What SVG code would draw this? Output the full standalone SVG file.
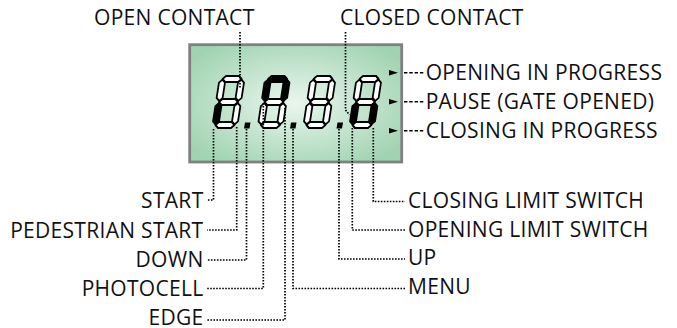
<svg xmlns="http://www.w3.org/2000/svg" width="677" height="328" viewBox="0 0 677 328">
<defs>
<radialGradient id="lcd" cx="0.5" cy="0.5" r="0.62">
<stop offset="0" stop-color="#eaf6ee"/>
<stop offset="1" stop-color="#a0d3b1"/>
</radialGradient>
</defs>
<style>
.lbl{font-family:"Open Sans","Noto Sans","DejaVu Sans",sans-serif;font-size:21px;letter-spacing:0.3px;fill:#111}
.r{text-anchor:end}
.dot{fill:none;stroke:#000;stroke-width:1.7;stroke-dasharray:1.6 1.4}
.dash{fill:none;stroke:#000;stroke-width:1.5;stroke-dasharray:3.4 1.9}
.seg{fill:#fff;stroke:#000;stroke-width:1.8;stroke-linejoin:round}
.on{fill:#000}
</style>
<g id="display">
<rect x="189.7" y="44.7" width="212" height="117.3" fill="url(#lcd)" stroke="#808080" stroke-width="2.8"/>
</g>
<g id="digit1" transform="translate(220,76) skewX(-8.75)">
<polygon class="seg" points="3,3 6,0 19,0 22,3 19,6 6,6"/>
<polygon class="seg" points="3,26 6,23 19,23 22,26 19,29 6,29"/>
<polygon class="seg" points="3,49 6,46 19,46 22,49 19,52 6,52"/>
<polygon class="seg" points="3,3.6 6,6.6 6,21.8 3,24.8 0,21.8 0,6.6"/>
<polygon class="seg" points="22,3.6 25,6.6 25,21.8 22,24.8 19,21.8 19,6.6"/>
<polygon class="seg on" points="3,27.2 6,30.2 6,45.4 3,48.4 0,45.4 0,30.2"/>
<polygon class="seg" points="22,27.2 25,30.2 25,45.4 22,48.4 19,45.4 19,30.2"/>
</g>
<g id="digit2" transform="translate(265.5,76) skewX(-8.75)">
<polygon class="seg on" points="3,3 6,0 19,0 22,3 19,6 6,6"/>
<polygon class="seg" points="3,26 6,23 19,23 22,26 19,29 6,29"/>
<polygon class="seg" points="3,49 6,46 19,46 22,49 19,52 6,52"/>
<polygon class="seg on" points="3,3.6 6,6.6 6,21.8 3,24.8 0,21.8 0,6.6"/>
<polygon class="seg on" points="22,3.6 25,6.6 25,21.8 22,24.8 19,21.8 19,6.6"/>
<polygon class="seg" points="3,27.2 6,30.2 6,45.4 3,48.4 0,45.4 0,30.2"/>
<polygon class="seg" points="22,27.2 25,30.2 25,45.4 22,48.4 19,45.4 19,30.2"/>
</g>
<g id="digit3" transform="translate(311,76) skewX(-8.75)">
<polygon class="seg" points="3,3 6,0 19,0 22,3 19,6 6,6"/>
<polygon class="seg" points="3,26 6,23 19,23 22,26 19,29 6,29"/>
<polygon class="seg" points="3,49 6,46 19,46 22,49 19,52 6,52"/>
<polygon class="seg" points="3,3.6 6,6.6 6,21.8 3,24.8 0,21.8 0,6.6"/>
<polygon class="seg" points="22,3.6 25,6.6 25,21.8 22,24.8 19,21.8 19,6.6"/>
<polygon class="seg" points="3,27.2 6,30.2 6,45.4 3,48.4 0,45.4 0,30.2"/>
<polygon class="seg" points="22,27.2 25,30.2 25,45.4 22,48.4 19,45.4 19,30.2"/>
</g>
<g id="digit4" transform="translate(357,76) skewX(-8.75)">
<polygon class="seg" points="3,3 6,0 19,0 22,3 19,6 6,6"/>
<polygon class="seg" points="3,26 6,23 19,23 22,26 19,29 6,29"/>
<polygon class="seg" points="3,49 6,46 19,46 22,49 19,52 6,52"/>
<polygon class="seg" points="3,3.6 6,6.6 6,21.8 3,24.8 0,21.8 0,6.6"/>
<polygon class="seg" points="22,3.6 25,6.6 25,21.8 22,24.8 19,21.8 19,6.6"/>
<polygon class="seg on" points="3,27.2 6,30.2 6,45.4 3,48.4 0,45.4 0,30.2"/>
<polygon class="seg on" points="22,27.2 25,30.2 25,45.4 22,48.4 19,45.4 19,30.2"/>
</g>
<g id="points">
<polygon points="245,122.5 250.5,122.5 249.5,128.5 244,128.5" fill="#000"/>
<polygon points="291,122.5 296.5,122.5 295.5,128.5 290,128.5" fill="#000"/>
<polygon points="337.5,122.5 343,122.5 342,128.5 336.5,128.5" fill="#000"/>
</g>
<g id="leds" fill="#000">
<polygon points="389,70 398,72.7 389,75.4"/>
<polygon points="389,99 398,101.7 389,104.4"/>
<polygon points="389,128 398,130.7 389,133.4"/>
</g>
<g id="connectors">
<polyline class="dot" points="240,32 240,89"/>
<polyline class="dot" points="345.5,32 345.5,110 349.5,115"/>
<polyline class="dash" points="404,72.7 425,72.7"/>
<polyline class="dash" points="404,101.7 425,101.7"/>
<polyline class="dash" points="404,130.7 425,130.7"/>
<polyline class="dot" points="213.5,129 213.5,200 207,200"/>
<polyline class="dot" points="236.7,127 236.7,230 207,230"/>
<polyline class="dot" points="246.5,129 246.5,260 207,260"/>
<polyline class="dot" points="263.3,103 263.3,288.5 207,288.5"/>
<polyline class="dot" points="285,108 285,320 207,320"/>
<polyline class="dot" points="293,129 293,288.5 405,288.5"/>
<polyline class="dot" points="339,129 339,259 405,259"/>
<polyline class="dot" points="352.3,128 352.3,230 405,230"/>
<polyline class="dot" points="373.3,128 373.3,201.5 405,201.5"/>
</g>
<g id="labels">
<text class="lbl" x="94" y="25">OPEN CONTACT</text>
<text class="lbl" x="340" y="25">CLOSED CONTACT</text>
<text class="lbl" x="425.7" y="79.5">OPENING IN PROGRESS</text>
<text class="lbl" x="425.7" y="108.5">PAUSE (GATE OPENED)</text>
<text class="lbl" x="425.7" y="137.5">CLOSING IN PROGRESS</text>
<text class="lbl" x="408" y="208.3">CLOSING LIMIT SWITCH</text>
<text class="lbl" x="408" y="236.5">OPENING LIMIT SWITCH</text>
<text class="lbl" x="408" y="265">UP</text>
<text class="lbl" x="408" y="294">MENU</text>
<text class="lbl r" x="203.5" y="208">START</text>
<text class="lbl r" x="203.5" y="237.5">PEDESTRIAN START</text>
<text class="lbl r" x="203.5" y="266.5">DOWN</text>
<text class="lbl r" x="203.5" y="296">PHOTOCELL</text>
<text class="lbl r" x="203.5" y="325">EDGE</text>
</g>
</svg>
